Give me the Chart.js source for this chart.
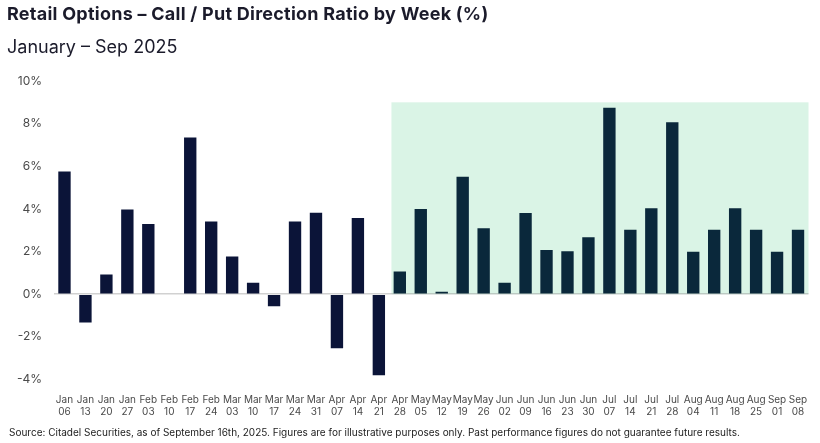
<!DOCTYPE html>
<html>
<head>
<meta charset="utf-8">
<script src="https://cdn.jsdelivr.net/npm/chart.js@4.4.1/dist/chart.umd.min.js"></script>
<style>
  html, body { margin: 0; padding: 0; background: #fff; }
  body { width: 820px; height: 443px; position: relative; overflow: hidden; font-family: Inter, "Noto Sans", sans-serif; }
  #title { position: absolute; left: 7px; top: 3px; font-size: 18px; font-weight: 700; color: #1b1b2b; letter-spacing: 0.25px; white-space: nowrap; }
  #subtitle { position: absolute; left: 7px; top: 36px; font-size: 18px; color: #1b1b2b; letter-spacing: 0; white-space: nowrap; }
  #source { position: absolute; left: 9px; top: 426px; font-size: 10px; color: #222; white-space: nowrap; }
  #wrap { position: absolute; left: 0; top: 0; width: 820px; height: 443px; }
</style>
</head>
<body>
<div id="wrap"><canvas id="myChart"></canvas></div>
<div id="title">Retail Options – Call / Put Direction Ratio by Week (%)</div>
<div id="subtitle">January – Sep 2025</div>
<div id="source">Source: Citadel Securities, as of September 16th, 2025. Figures are for illustrative purposes only. Past performance figures do not guarantee future results.</div>
<script>
var weeks = ['Jan 06', 'Jan 13', 'Jan 20', 'Jan 27', 'Feb 03', 'Feb 10', 'Feb 17', 'Feb 24',
    'Mar 03', 'Mar 10', 'Mar 17', 'Mar 24', 'Mar 31', 'Apr 07', 'Apr 14', 'Apr 21',
    'Apr 28', 'May 05', 'May 12', 'May 19', 'May 26', 'Jun 02', 'Jun 09', 'Jun 16',
    'Jun 23', 'Jun 30', 'Jul 07', 'Jul 14', 'Jul 21', 'Jul 28', 'Aug 04', 'Aug 11',
    'Aug 18', 'Aug 25', 'Sep 01', 'Sep 08'];
var ratio = [5.75, -1.33, 0.93, 3.97, 3.29, null, 7.35, 3.41,
    1.77, 0.54, -0.57, 3.41, 3.82, -2.54, 3.57, -3.8,
    1.06, 4.0, 0.11, 5.51, 3.09, 0.54, 3.81, 2.07,
    2.02, 2.67, 8.75, 3.02, 4.03, 8.07, 1.99, 3.02,
    4.03, 3.02, 1.99, 3.02];
var yTicks = [-4, -2, 0, 2, 4, 6, 8, 10];
var highlightFrom = 'Apr 28';
var highlightTop = 9;

var splitAt = weeks.indexOf(highlightFrom);

// light green band behind the recent weeks
var shade = {
    id: 'shade',
    beforeDraw: function(chart) {
        var x = chart.scales.x, y = chart.scales.y, c = chart.ctx;
        var left = x.getPixelForValue(splitAt) - x.width / weeks.length * 0.4;
        var top = y.getPixelForValue(highlightTop);
        c.save();
        c.fillStyle = '#daf4e6';
        c.fillRect(left, top, chart.chartArea.right - left, y.getPixelForValue(0) - top);
        c.restore();
    }
};

var ctx = document.getElementById('myChart');
var myChart = new Chart(ctx, {
    type: 'bar',
    data: {
        labels: weeks.map(function(w) { return w.split(' '); }),
        datasets: [
            {
                data: ratio,
                backgroundColor: function(c) { return c.dataIndex >= splitAt ? '#0a283b' : '#0b1438'; },
                borderWidth: 0,
                barPercentage: 0.59,
                categoryPercentage: 1
            }
        ]
    },
    options: {
        responsive: true,
        maintainAspectRatio: false,
        animation: false,
        layout: { padding: { top: 81, right: 11.5, left: 0, bottom: 0 } },
        plugins: {
            legend: { display: false },
            tooltip: { enabled: false }
        },
        scales: {
            x: {
                grid: { display: false },
                border: { display: false },
                afterFit: function(s) { s.height = 63.5; },
                ticks: {
                    autoSkip: false,
                    maxRotation: 0,
                    padding: 6,
                    color: '#4a4a4a',
                    font: { family: 'Inter', size: 10, lineHeight: 1.2 }
                }
            },
            y: {
                min: -4,
                max: 10,
                afterFit: function(s) { s.width = 54; },
                afterBuildTicks: function(s) { s.ticks = yTicks.map(function(v) { return { value: v }; }); },
                border: { display: false },
                grid: {
                    drawTicks: false,
                    lineWidth: 1.5,
                    color: function(c) { return c.tick && c.tick.value === 0 ? 'rgba(140,140,140,0.4)' : 'transparent'; }
                },
                ticks: {
                    padding: 12,
                    color: '#4a4a4a',
                    font: { family: 'Inter', size: 12 },
                    callback: function(v) { return v + '%'; }
                }
            }
        }
    },
    plugins: [shade]
});
</script>
</body>
</html>
